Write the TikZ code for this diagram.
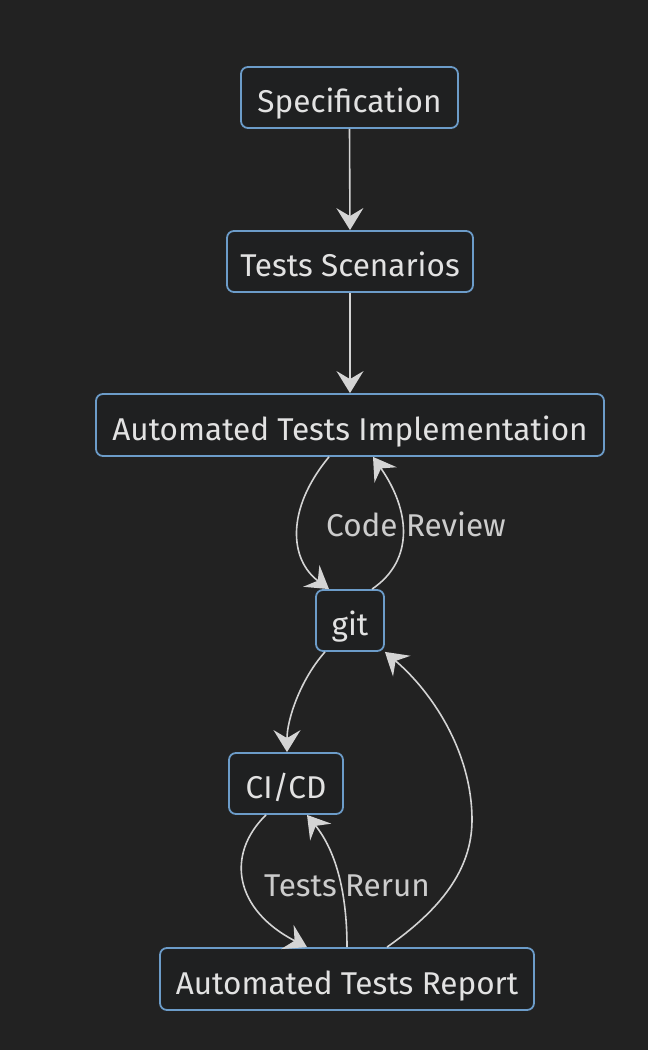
\documentclass[tikz,border=0pt]{standalone}
\usepackage{fontspec}
\setmainfont{Fira Sans}
\usetikzlibrary{arrows.meta,calc}
\definecolor{bg}{RGB}{34,34,34}
\definecolor{nodefill}{RGB}{31,32,33}
\definecolor{nodeborder}{RGB}{108,156,201}
\definecolor{nodetext}{RGB}{226,226,226}
\definecolor{edgecol}{RGB}{212,212,212}
\definecolor{labeltext}{RGB}{204,204,204}
\tikzset{
  x=1pt,y=1pt,
  box/.style={draw=nodeborder, line width=1.8pt, fill=nodefill, rounded corners=7pt,
    inner sep=0pt, text=nodetext, font=\fontsize{31.5}{36}\selectfont,
    text height=31pt, text depth=0pt},
  conn/.style={draw=edgecol, line width=1.6pt,
    -{Stealth[length=22pt,width=27pt,inset=8pt]}},
  elabel/.style={text=labeltext, font=\fontsize{31.5}{36}\selectfont, inner sep=0pt, anchor=base}
}
\begin{document}
\begin{tikzpicture}
\fill[bg] (0,0) rectangle (648,1050);
\useasboundingbox (0,0) rectangle (648,1050);

\node[box, minimum width=217pt, minimum height=61pt] (spec) at (349.5,952.5) {Specification};
\node[box, minimum width=246pt, minimum height=61pt] (scen) at (350,788.5) {Tests Scenarios};
\node[box, minimum width=508pt, minimum height=62pt] (ati) at (350,625) {Automated Tests Implementation};
\node[box, minimum width=68pt, minimum height=61pt] (git) at (350,429.5) {git};
\node[box, minimum width=114pt, minimum height=61pt] (cicd) at (286,266.5) {CI/CD};
\node[box, minimum width=374pt, minimum height=62pt] (rep) at (347,71) {Automated Tests Report};

\draw[conn] (spec.south) -- (scen.north);
\draw[conn] (scen.south) -- (ati.north);

\draw[conn] ([xshift=-21pt]ati.south) .. controls (285,540) and (290,490) .. ([xshift=-21pt]git.north);
\draw[conn] ([xshift=22pt]git.north) .. controls (415,490) and (410,540) .. ([xshift=23pt]ati.south);
\node[elabel] (lcr) at (416,513) {Code Review};

\draw[conn] ([xshift=-25pt]git.south) .. controls (300,370) and (287,330) .. ([xshift=1pt]cicd.north);
\draw[conn] ([xshift=-20pt]cicd.south) .. controls (225,195) and (235,140) .. ([xshift=-40pt]rep.north);
\draw[conn] (rep.north) .. controls (347,160) and (335,200) .. ([xshift=21pt]cicd.south);
\node[elabel] (ltr) at (347,153) {Tests Rerun};
\draw[conn] ([xshift=40pt]rep.north) .. controls (440,140) and (472,180) .. (472,230) .. controls (472,300) and (430,360) .. (git.south east);
\end{tikzpicture}
\end{document}
